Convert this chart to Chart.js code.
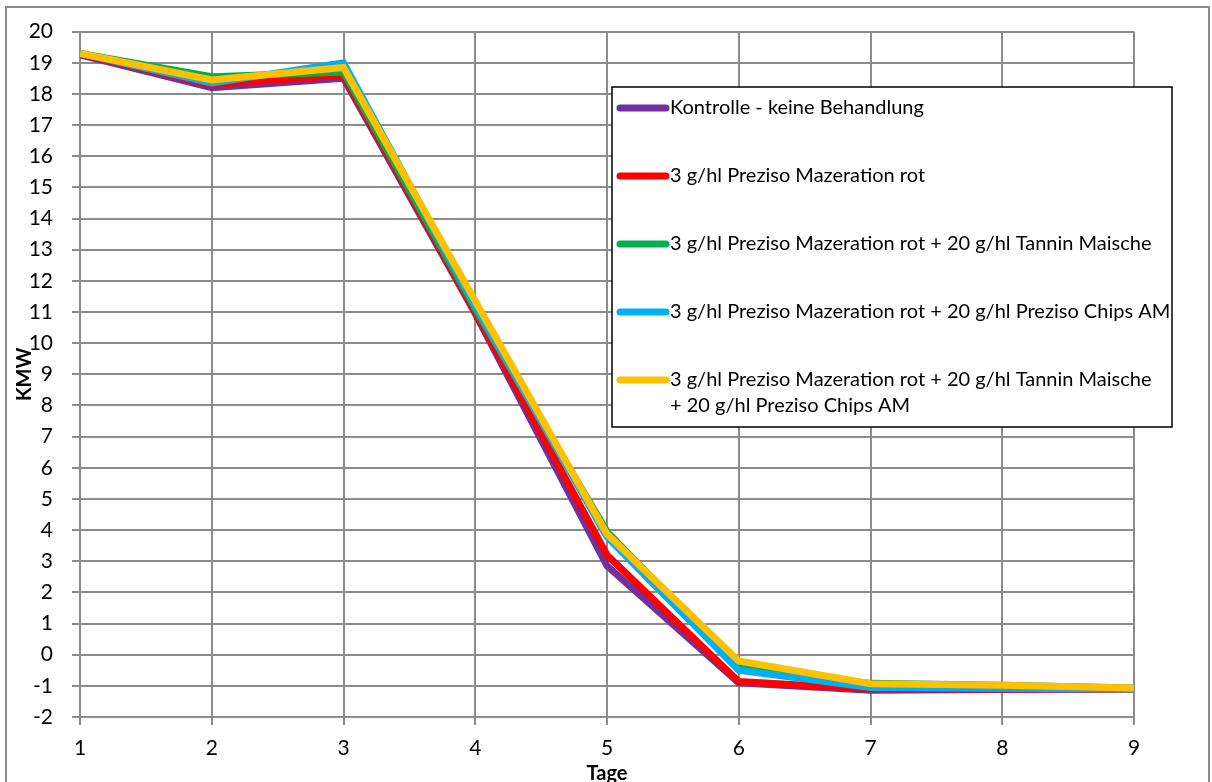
<!DOCTYPE html>
<html>
<head>
<meta charset="utf-8">
<script src="https://cdn.jsdelivr.net/npm/chart.js@4.4.1/dist/chart.umd.min.js"></script>
<style>
  html, body { margin: 0; padding: 0; background: #fff; overflow: hidden; }
  #wrap { position: relative; width: 1212px; height: 782px; }
</style>
</head>
<body>
<div id="wrap"><canvas id="c" width="1212" height="782"></canvas></div>
<script>
// ---- data ----
const days = [1, 2, 3, 4, 5, 6, 7, 8, 9];
const kontrolle = [19.25, 18.2, 18.5, 10.95, 2.85, -0.9, -1.14, -1.12, -1.1];
const mazeration = [19.28, 18.3, 18.6, 11.0, 3.2, -0.86, -1.1, -1.1, -1.1];
const mazTannin = [19.3, 18.55, 18.7, 11.1, 3.95, -0.4, -0.92, -0.98, -1.07];
const mazChips = [19.3, 18.35, 19.0, 11.2, 3.78, -0.5, -1.05, -1.08, -1.1];
const mazTanninChips = [19.3, 18.45, 18.85, 11.35, 3.87, -0.2, -0.93, -0.98, -1.07];

const seriesLabels = [
  ['Kontrolle - keine Behandlung'],
  ['3 g/hl Preziso Mazeration rot'],
  ['3 g/hl Preziso Mazeration rot + 20 g/hl Tannin Maische'],
  ['3 g/hl Preziso Mazeration rot + 20 g/hl Preziso Chips AM'],
  ['3 g/hl Preziso Mazeration rot + 20 g/hl Tannin Maische', '+ 20 g/hl Preziso Chips AM']
];
const seriesValues = [kontrolle, mazeration, mazTannin, mazChips, mazTanninChips];
const seriesColors = ['#7030A0', '#FF0000', '#00B050', '#00B0F0', '#FFC000'];
const yTitle = 'KMW';
const xTitle = 'Tage';

const FONT = 'Lato, "Open Sans", sans-serif';
const GRID = '#8c8c8c';

const datasets = seriesValues.map((vals, i) => ({
  label: seriesLabels[i].join(' '),
  data: days.map((d, j) => ({ x: d, y: vals[j] })),
  borderColor: seriesColors[i],
  backgroundColor: seriesColors[i],
  borderWidth: 7,
  pointRadius: 0,
  tension: 0,
  fill: false,
  order: seriesValues.length - i
}));

const framePlugin = {
  id: 'frame',
  beforeDraw(chart) {
    const ctx = chart.ctx;
    ctx.save();
    ctx.fillStyle = '#fff';
    ctx.fillRect(0, 0, chart.width, chart.height);
    ctx.strokeStyle = '#8a8a8a';
    ctx.lineWidth = 2;
    ctx.strokeRect(6, 7, 1203, 800);
    ctx.restore();
  }
};

const legendPlugin = {
  id: 'boxLegend',
  afterDraw(chart) {
    const ctx = chart.ctx;
    const x0 = 612, y0 = 87, w = 560, h = 340;
    ctx.save();
    ctx.fillStyle = '#fff';
    ctx.fillRect(x0, y0, w, h);
    ctx.strokeStyle = '#000';
    ctx.lineWidth = 1.5;
    ctx.strokeRect(x0, y0, w, h);
    ctx.font = '20px ' + FONT;
    ctx.textBaseline = 'middle';
    ctx.fillStyle = '#000';
    seriesLabels.forEach((lines, i) => {
      const cy = 108 + i * 68;
      ctx.strokeStyle = seriesColors[i];
      ctx.lineWidth = 7;
      ctx.lineCap = 'round';
      ctx.beginPath();
      ctx.moveTo(620, cy);
      ctx.lineTo(666, cy);
      ctx.stroke();
      lines.forEach((t, k) => {
        ctx.fillText(t, 670, cy + k * 26);
      });
    });
    ctx.restore();
  }
};

new Chart(document.getElementById('c'), {
  type: 'line',
  data: { datasets },
  plugins: [framePlugin, legendPlugin],
  options: {
    responsive: false,
    animation: false,
    layout: { padding: { left: 0, top: 24, right: 78, bottom: -4 } },
    plugins: {
      legend: { display: false },
      title: { display: false },
      tooltip: { enabled: false }
    },
    scales: {
      x: {
        type: 'linear',
        min: 1, max: 9,
        ticks: { stepSize: 1, color: '#000', font: { family: FONT, size: 21 }, padding: 11, maxRotation: 0 },
        grid: { color: GRID, lineWidth: 2, tickLength: 8, drawTicks: true },
        border: { color: GRID, width: 2 },
        title: { display: true, text: xTitle, color: '#000', font: { family: FONT, size: 20, weight: 'bold' }, padding: 0 },
        afterFit(scale) { scale.height = 69; }
      },
      y: {
        type: 'linear',
        min: -2, max: 20,
        ticks: { stepSize: 1, color: '#000', font: { family: FONT, size: 21 }, padding: 19 },
        grid: { color: GRID, lineWidth: 2, tickLength: 8, drawTicks: true },
        border: { color: GRID, width: 2 },
        title: { display: true, text: yTitle, color: '#000', font: { family: FONT, size: 20, weight: 'bold' }, padding: { top: 13, bottom: 0 } },
        afterFit(scale) { scale.width = 80; }
      }
    }
  }
});
</script>
</body>
</html>
